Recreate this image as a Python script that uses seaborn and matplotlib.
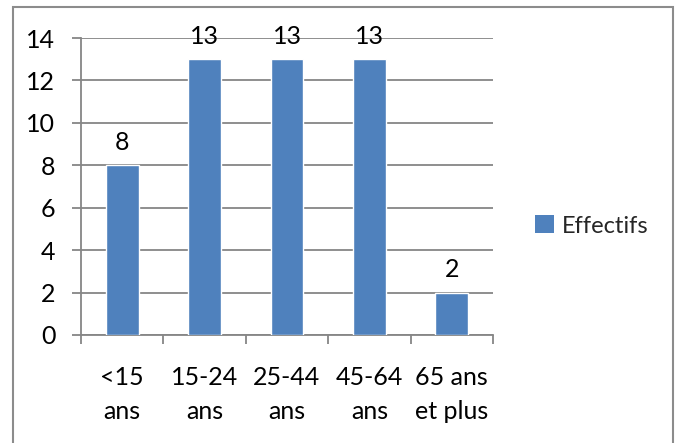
import matplotlib
matplotlib.use("Agg")
import matplotlib.pyplot as plt
from matplotlib.patches import Rectangle, Patch
import seaborn as sns
import pandas as pd

categories = ["<15\nans", "15-24\nans", "25-44\nans", "45-64\nans", "65 ans\net plus"]
effectifs = [8, 13, 13, 13, 2]
series_name = "Effectifs"
y_ticks = [0, 2, 4, 6, 8, 10, 12, 14]

sns.set_theme(style="white")
plt.rcParams["font.family"] = ["Lato", "DejaVu Sans"]

W, H = 676, 443
fig = plt.figure(figsize=(W / 100, H / 100), dpi=100)
ax = fig.add_axes([81 / W, 1 - 335 / H, (493 - 81) / W, (335 - 38) / H])

df = pd.DataFrame({"Tranche": categories, "Effectifs": effectifs})
bar_color = "#4F81BD"
grid_color = "#868686"
sns.barplot(data=df, x="Tranche", y="Effectifs", color=bar_color, width=0.4,
            saturation=1, ax=ax, zorder=3)

ax.set_ylim(0, 14)
ax.set_xlim(-0.5, 4.5)
ax.set_yticks(y_ticks)
ax.yaxis.grid(True, color=grid_color, linewidth=1.3, zorder=0)
ax.set_axisbelow(True)
ax.set_xlabel("")
ax.set_ylabel("")

for side in ["top", "right"]:
    ax.spines[side].set_visible(False)
for side in ["left", "bottom"]:
    ax.spines[side].set_color(grid_color)
    ax.spines[side].set_linewidth(1.3)

fs = 18
ax.tick_params(axis="y", length=6.5, width=1.3, color=grid_color, pad=12,
               labelsize=fs, labelcolor="black", left=True)
ax.tick_params(axis="x", which="major", length=0, pad=22, labelsize=fs, labelcolor="black")
ax.set_xticks([i - 0.5 for i in range(len(categories) + 1)], minor=True)
ax.tick_params(axis="x", which="minor", length=6.5, width=1.3, color=grid_color, bottom=True)
for lbl in ax.get_xticklabels():
    lbl.set_linespacing(1.6)

ax.bar_label(ax.containers[0], labels=[str(v) for v in effectifs], padding=8,
             fontsize=fs, color="black")

handle = Patch(facecolor=bar_color, edgecolor="none")
fig.legend([handle], [series_name], loc="center left",
           bbox_to_anchor=(526 / W, 1 - 226 / H), frameon=False, fontsize=17,
           handlelength=0.8, handleheight=0.8, handletextpad=0.3, borderaxespad=0)

fig.add_artist(Rectangle((13 / W, -0.05), (673 - 13) / W, 1.05 - 7 / H,
                         transform=fig.transFigure, fill=False,
                         edgecolor="#8C8C8C", linewidth=1.5))

fig.savefig("out.png", dpi=100, facecolor="white")
